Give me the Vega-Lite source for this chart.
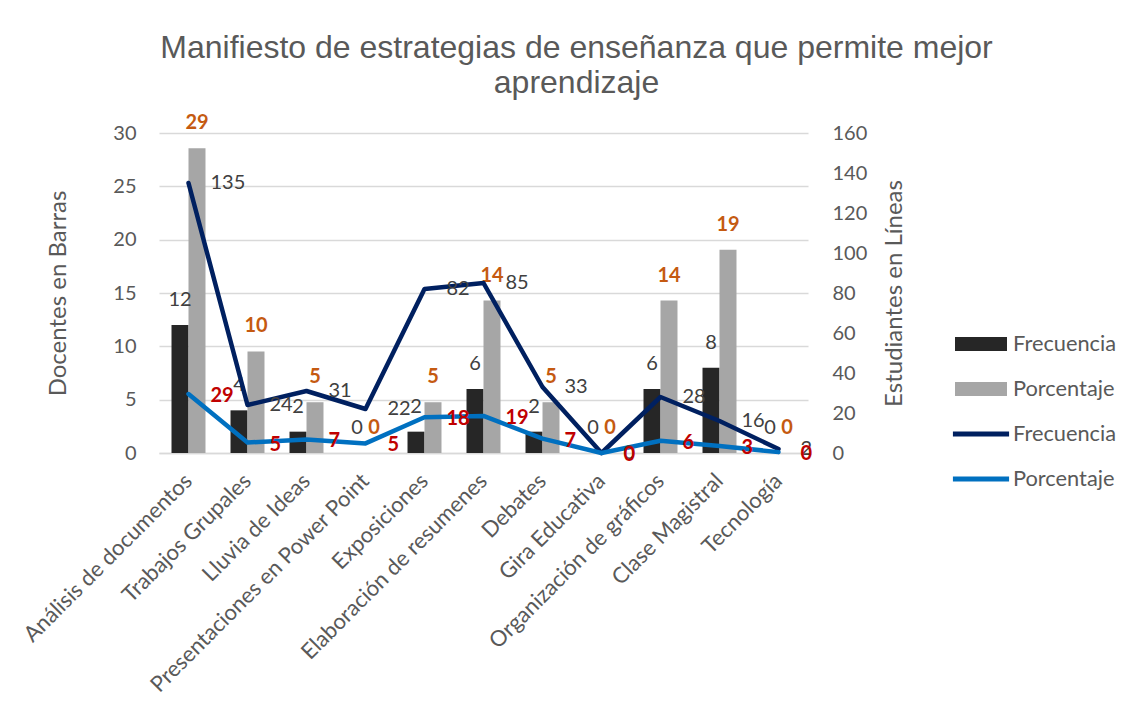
{
  "$schema": "https://vega.github.io/schema/vega-lite/v6.json",
  "autosize": {"type": "none"},
  "padding": {"left": 159, "top": 133, "right": 328, "bottom": 264},
  "width": 649,
  "height": 320,
  "background": "white",
  "title": {
    "text": ["Manifiesto de estrategias de enseñanza que permite mejor", "aprendizaje"],
    "font": "Liberation Sans",
    "fontSize": 32,
    "fontWeight": "normal",
    "color": "#595959",
    "anchor": "middle",
    "frame": "group",
    "offset": 13,
    "lineHeight": 35,
    "dx": 93
  },
  "datasets": {
    "docentes": [
      {"estrategia": "Análisis de documentos", "serie": "Frecuencia docentes", "valor": 12},
      {"estrategia": "Análisis de documentos", "serie": "Porcentaje docentes", "valor": 28.57},
      {"estrategia": "Trabajos Grupales", "serie": "Frecuencia docentes", "valor": 4},
      {"estrategia": "Trabajos Grupales", "serie": "Porcentaje docentes", "valor": 9.52},
      {"estrategia": "Lluvia de Ideas", "serie": "Frecuencia docentes", "valor": 2},
      {"estrategia": "Lluvia de Ideas", "serie": "Porcentaje docentes", "valor": 4.76},
      {"estrategia": "Presentaciones en Power Point", "serie": "Frecuencia docentes", "valor": 0},
      {"estrategia": "Presentaciones en Power Point", "serie": "Porcentaje docentes", "valor": 0},
      {"estrategia": "Exposiciones", "serie": "Frecuencia docentes", "valor": 2},
      {"estrategia": "Exposiciones", "serie": "Porcentaje docentes", "valor": 4.76},
      {"estrategia": "Elaboración de resumenes", "serie": "Frecuencia docentes", "valor": 6},
      {"estrategia": "Elaboración de resumenes", "serie": "Porcentaje docentes", "valor": 14.29},
      {"estrategia": "Debates", "serie": "Frecuencia docentes", "valor": 2},
      {"estrategia": "Debates", "serie": "Porcentaje docentes", "valor": 4.76},
      {"estrategia": "Gira Educativa", "serie": "Frecuencia docentes", "valor": 0},
      {"estrategia": "Gira Educativa", "serie": "Porcentaje docentes", "valor": 0},
      {"estrategia": "Organización de gráficos", "serie": "Frecuencia docentes", "valor": 6},
      {"estrategia": "Organización de gráficos", "serie": "Porcentaje docentes", "valor": 14.29},
      {"estrategia": "Clase Magistral", "serie": "Frecuencia docentes", "valor": 8},
      {"estrategia": "Clase Magistral", "serie": "Porcentaje docentes", "valor": 19.05},
      {"estrategia": "Tecnología", "serie": "Frecuencia docentes", "valor": 0},
      {"estrategia": "Tecnología", "serie": "Porcentaje docentes", "valor": 0}
    ],
    "estudiantes": [
      {"estrategia": "Análisis de documentos", "serie": "Frecuencia estudiantes", "valor": 135},
      {"estrategia": "Trabajos Grupales", "serie": "Frecuencia estudiantes", "valor": 24},
      {"estrategia": "Lluvia de Ideas", "serie": "Frecuencia estudiantes", "valor": 31},
      {"estrategia": "Presentaciones en Power Point", "serie": "Frecuencia estudiantes", "valor": 22},
      {"estrategia": "Exposiciones", "serie": "Frecuencia estudiantes", "valor": 82},
      {"estrategia": "Elaboración de resumenes", "serie": "Frecuencia estudiantes", "valor": 85},
      {"estrategia": "Debates", "serie": "Frecuencia estudiantes", "valor": 33},
      {"estrategia": "Gira Educativa", "serie": "Frecuencia estudiantes", "valor": 0},
      {"estrategia": "Organización de gráficos", "serie": "Frecuencia estudiantes", "valor": 28},
      {"estrategia": "Clase Magistral", "serie": "Frecuencia estudiantes", "valor": 16},
      {"estrategia": "Tecnología", "serie": "Frecuencia estudiantes", "valor": 2},
      {"estrategia": "Análisis de documentos", "serie": "Porcentaje estudiantes", "valor": 29.48},
      {"estrategia": "Trabajos Grupales", "serie": "Porcentaje estudiantes", "valor": 5.24},
      {"estrategia": "Lluvia de Ideas", "serie": "Porcentaje estudiantes", "valor": 6.77},
      {"estrategia": "Presentaciones en Power Point", "serie": "Porcentaje estudiantes", "valor": 4.8},
      {"estrategia": "Exposiciones", "serie": "Porcentaje estudiantes", "valor": 17.9},
      {"estrategia": "Elaboración de resumenes", "serie": "Porcentaje estudiantes", "valor": 18.56},
      {"estrategia": "Debates", "serie": "Porcentaje estudiantes", "valor": 7.21},
      {"estrategia": "Gira Educativa", "serie": "Porcentaje estudiantes", "valor": 0},
      {"estrategia": "Organización de gráficos", "serie": "Porcentaje estudiantes", "valor": 6.11},
      {"estrategia": "Clase Magistral", "serie": "Porcentaje estudiantes", "valor": 3.49},
      {"estrategia": "Tecnología", "serie": "Porcentaje estudiantes", "valor": 0.44}
    ]
  },
  "encoding": {
    "x": {
      "field": "estrategia",
      "type": "nominal",
      "scale": {
        "domain": ["Análisis de documentos", "Trabajos Grupales", "Lluvia de Ideas", "Presentaciones en Power Point", "Exposiciones", "Elaboración de resumenes", "Debates", "Gira Educativa", "Organización de gráficos", "Clase Magistral", "Tecnología"],
        "paddingInner": 0.424,
        "paddingOuter": 0.212
      },
      "axis": {
        "title": null,
        "labelAngle": -45,
        "labelAlign": "right",
        "labelBaseline": "middle",
        "labelPadding": 24,
        "labelFont": "Lato",
        "labelFontSize": 22,
        "labelColor": "#595959",
        "ticks": false,
        "domain": true,
        "domainColor": "#D9D9D9",
        "domainWidth": 1.5,
        "labelLimit": 400
      }
    }
  },
  "layer": [
    {
      "data": {"name": "docentes"},
      "encoding": {
        "y": {
          "field": "valor",
          "type": "quantitative",
          "scale": {"domain": [0, 30], "nice": false},
          "axis": {
            "title": "Docentes en Barras",
            "values": [0, 5, 10, 15, 20, 25, 30],
            "grid": true,
            "gridColor": "#D9D9D9",
            "gridWidth": 1.5,
            "domain": false,
            "ticks": false,
            "labelPadding": 23,
            "labelFont": "Lato",
            "labelFontSize": 20,
            "labelColor": "#595959",
            "titleFont": "Lato",
            "titleFontSize": 24,
            "titleFontWeight": "normal",
            "titleColor": "#595959",
            "titlePadding": 42
          }
        },
        "xOffset": {
          "field": "serie",
          "type": "nominal",
          "scale": {"domain": ["Frecuencia docentes", "Porcentaje docentes"], "paddingInner": 0, "paddingOuter": 0}
        }
      },
      "layer": [
        {
          "mark": {"type": "bar"},
          "encoding": {
            "color": {
              "field": "serie",
              "type": "nominal",
              "scale": {
                "domain": ["Frecuencia docentes", "Porcentaje docentes", "Frecuencia estudiantes", "Porcentaje estudiantes"],
                "range": ["#262626", "#A6A6A6", "#002060", "#0070C0"]
              },
              "legend": {
                "title": null,
                "orient": "none",
                "legendX": 796,
                "legendY": 185,
                "padding": 0,
                "symbolType": "M-1,-0.27H1V0.27H-1Z",
                "symbolSize": 2704,
                "labelFont": "Lato",
                "labelFontSize": 21.8,
                "labelColor": "#595959",
                "labelOffset": 6,
                "rowPadding": 7,
                "labelExpr": "split(datum.label, ' ')[0]",
                "encode": {
                  "symbols": {
                    "update": {
                      "shape": {"signal": "datum.index < 2 ? 'M-1,-0.27H1V0.27H-1Z' : 'M-1.08,-0.095H1.08V0.095H-1.08Z'"},
                      "fill": {"scale": "color", "field": "value"},
                      "strokeWidth": {"value": 0},
                      "opacity": {"value": 1},
                      "fillOpacity": {"value": 1}
                    }
                  }
                }
              }
            }
          }
        },
        {
          "transform": [{"filter": "datum.serie === 'Frecuencia docentes'"}],
          "mark": {"type": "text", "dy": -25, "baseline": "middle", "align": "center", "font": "Lato", "fontSize": 20, "color": "#404040"},
          "encoding": {"text": {"field": "valor", "type": "quantitative", "format": ".0f"}}
        },
        {
          "transform": [{"filter": "datum.serie === 'Porcentaje docentes'"}],
          "mark": {"type": "text", "dy": -25, "baseline": "middle", "align": "center", "font": "Lato", "fontSize": 20, "fontWeight": "bold", "color": "#C55A11"},
          "encoding": {"text": {"field": "valor", "type": "quantitative", "format": ".0f"}}
        }
      ]
    },
    {
      "data": {"name": "estudiantes"},
      "encoding": {
        "y": {
          "field": "valor",
          "type": "quantitative",
          "scale": {"domain": [0, 160], "nice": false},
          "axis": {
            "orient": "right",
            "title": "Estudiantes en Líneas",
            "values": [0, 20, 40, 60, 80, 100, 120, 140, 160],
            "grid": false,
            "domain": false,
            "ticks": false,
            "labelPadding": 24,
            "labelFont": "Lato",
            "labelFontSize": 20,
            "labelColor": "#595959",
            "titleFont": "Lato",
            "titleFontSize": 24,
            "titleFontWeight": "normal",
            "titleColor": "#595959",
            "titleAngle": 270,
            "titlePadding": 40
          }
        }
      },
      "layer": [
        {
          "mark": {"type": "line", "strokeWidth": 4.5, "strokeCap": "round", "strokeJoin": "round"},
          "encoding": {
            "x": {"field": "estrategia", "type": "nominal", "bandPosition": 0.5},
            "color": {"field": "serie", "type": "nominal"}
          }
        },
        {
          "transform": [{"filter": "datum.serie === 'Frecuencia estudiantes'"}],
          "mark": {"type": "text", "dx": 22, "baseline": "middle", "align": "left", "font": "Lato", "fontSize": 20, "color": "#404040"},
          "encoding": {
            "x": {"field": "estrategia", "type": "nominal", "bandPosition": 0.5},
            "text": {"field": "valor", "type": "quantitative", "format": ".0f"}
          }
        },
        {
          "transform": [{"filter": "datum.serie === 'Porcentaje estudiantes'"}],
          "mark": {"type": "text", "dx": 22, "dy": 2, "baseline": "middle", "align": "left", "font": "Lato", "fontSize": 20, "fontWeight": "bold", "color": "#C00000"},
          "encoding": {
            "x": {"field": "estrategia", "type": "nominal", "bandPosition": 0.5},
            "text": {"field": "valor", "type": "quantitative", "format": ".0f"}
          }
        }
      ]
    }
  ],
  "resolve": {"scale": {"y": "independent"}},
  "config": {
    "view": {"stroke": null},
    "axis": {"labelFont": "Lato"}
  }
}
